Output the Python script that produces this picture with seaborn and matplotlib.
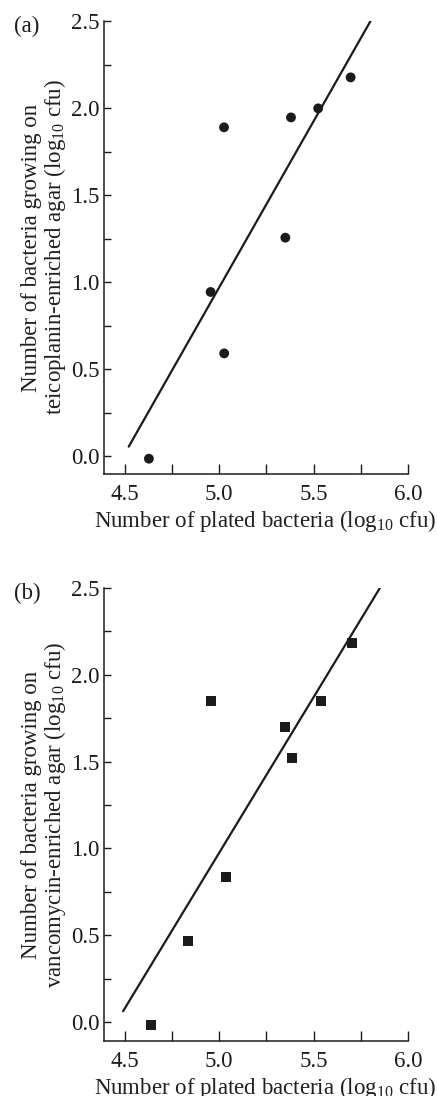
import numpy as np
import pandas as pd
import seaborn as sns
import matplotlib
matplotlib.use("Agg")
import matplotlib.pyplot as plt
from matplotlib.ticker import MultipleLocator, FormatStrFormatter

# ---- data ----
teico_x = [4.627, 4.954, 5.025, 5.026, 5.350, 5.380, 5.524, 5.696]
teico_y = [-0.015, 0.943, 1.889, 0.590, 1.255, 1.946, 1.998, 2.176]
vanco_x = [4.636, 4.836, 4.956, 5.035, 5.350, 5.383, 5.537, 5.705]
vanco_y = [-0.015, 0.467, 1.847, 0.837, 1.698, 1.519, 1.849, 2.181]
fit_start_a = 4.52
fit_start_b = 4.49
fit_end = 6.0

xlabel = "Number of plated bacteria (log$_{10}$ cfu)"
ylabel_a = "Number of bacteria growing on\nteicoplanin-enriched agar (log$_{10}$ cfu)"
ylabel_b = "Number of bacteria growing on\nvancomycin-enriched agar (log$_{10}$ cfu)"

sns.set_style("ticks")
plt.rcParams["font.family"] = ["Liberation Serif", "DejaVu Serif"]
plt.rcParams["mathtext.fontset"] = "custom"
plt.rcParams["mathtext.rm"] = "Liberation Serif"
plt.rcParams["mathtext.it"] = "Liberation Serif:italic"
plt.rcParams["text.color"] = "#231f20"
plt.rcParams["axes.labelcolor"] = "#231f20"

FS = 16.5

fig = plt.figure(figsize=(4.37, 10.96), dpi=100)
W, H = 437, 1096
def px_axes(l, t, r, b):
    return fig.add_axes([l / W, 1 - b / H, (r - l) / W, (b - t) / H])

ax_a = px_axes(104, 21, 408, 474)
ax_b = px_axes(104, 588, 408, 1041)

col = "#1c1a1b"

def draw(ax, xs, ys, marker, size, x0, ylab, ymin, tag):
    df = pd.DataFrame({"x": xs, "y": ys})
    slope, inter = np.polyfit(df["x"], df["y"], 1)
    lx = np.array([x0, fit_end])
    line_df = pd.DataFrame({"x": lx, "y": inter + slope * lx})
    sns.lineplot(data=line_df, x="x", y="y", ax=ax, color=col, lw=1.6)
    sns.scatterplot(data=df, x="x", y="y", ax=ax, marker=marker, s=size,
                    color=col, edgecolor="none", zorder=3)
    ax.set_xlim(4.389, 6.0)
    ax.set_ylim(ymin, 2.5)
    ax.xaxis.set_major_locator(MultipleLocator(0.5))
    ax.xaxis.set_minor_locator(MultipleLocator(0.25))
    ax.yaxis.set_major_locator(MultipleLocator(0.5))
    ax.yaxis.set_minor_locator(MultipleLocator(0.25))
    ax.xaxis.set_major_formatter(FormatStrFormatter("%.1f"))
    ax.yaxis.set_major_formatter(FormatStrFormatter("%.1f"))
    ax.tick_params(axis="x", which="both", direction="in", length=7.5, width=1.0,
                   labelsize=FS, color=col, labelcolor=col, pad=7)
    ax.tick_params(axis="y", which="both", direction="in", length=5, width=1.0,
                   labelsize=FS, color=col, labelcolor=col, pad=3)
    for s in ["top", "right"]:
        ax.spines[s].set_visible(False)
    for s in ["left", "bottom"]:
        ax.spines[s].set_linewidth(1.1)
        ax.spines[s].set_color(col)
    ax.set_xlabel(xlabel, fontsize=FS)
    ax.set_ylabel(ylab, fontsize=FS, linespacing=1.0)
    ax.xaxis.set_label_coords(0.53, -0.075)
    ax.yaxis.set_label_coords(-0.12, 0.5)
    ax.text(-0.296, 0.987, tag, transform=ax.transAxes, fontsize=FS,
            va="center", ha="left", color=col)

draw(ax_a, teico_x, teico_y, "o", 50, fit_start_a, ylabel_a, -0.103, "(a)")
draw(ax_b, vanco_x, vanco_y, "s", 52, fit_start_b, ylabel_b, -0.109, "(b)")

fig.savefig("out.png", dpi=100)
